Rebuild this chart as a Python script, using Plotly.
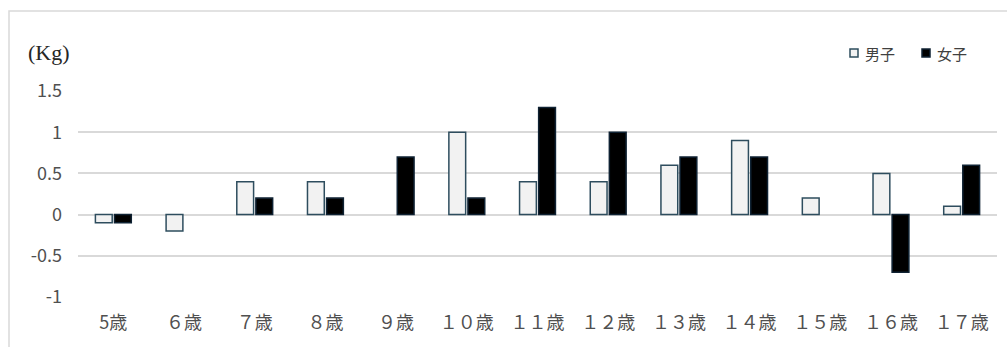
import plotly.graph_objects as go

# Age categories and yearly weight change (kg) by sex
ages = ["5歳", "６歳", "７歳", "８歳", "９歳", "１０歳", "１１歳", "１２歳",
        "１３歳", "１４歳", "１５歳", "１６歳", "１７歳"]
boys = [-0.1, -0.2, 0.4, 0.4, 0.0, 1.0, 0.4, 0.4, 0.6, 0.9, 0.2, 0.5, 0.1]
girls = [-0.1, 0.0, 0.2, 0.2, 0.7, 0.2, 1.3, 1.0, 0.7, 0.7, 0.0, -0.7, 0.6]
y_ticks = [-1, -0.5, 0, 0.5, 1, 1.5]
y_tick_text = ["-1", "-0.5", "0", "0.5", "1", "1.5"]

W, H = 1007, 347
L, R, T, B = 78, 10, 91, 50
plot_w = W - L - R
plot_h = H - T - B

def px_x(p):
    return (p - L) / plot_w

def px_y(p):
    return (H - B - p) / plot_h

def outline_widths(values, w=1.5):
    # zero-height bars get no outline so they stay invisible
    return [0 if v == 0 else w for v in values]

BOY_LINE = "#2e4d5e"
BOY_FILL = "#f2f2f2"
GIRL_LINE = "#0f2233"
GIRL_FILL = "#000000"
LABEL_FONT = "Noto Sans CJK JP"
LABEL_COLOR = "#505050"

fig = go.Figure()
fig.add_trace(go.Bar(
    x=ages, y=boys, name="男子",
    marker=dict(color=BOY_FILL,
                line=dict(color=BOY_LINE, width=outline_widths(boys))),
))
fig.add_trace(go.Bar(
    x=ages, y=girls, name="女子",
    marker=dict(color=GIRL_FILL,
                line=dict(color=GIRL_LINE, width=outline_widths(girls))),
))

shapes = [
    # outer frame
    dict(type="rect", xref="paper", yref="paper",
         x0=px_x(9), x1=px_x(1020), y0=px_y(370), y1=px_y(11),
         line=dict(color="#d9d9d9", width=1.5), fillcolor="rgba(0,0,0,0)",
         layer="below"),
    # legend keys
    dict(type="rect", xref="paper", yref="paper",
         x0=px_x(850), x1=px_x(858), y0=px_y(57), y1=px_y(49),
         line=dict(color=BOY_LINE, width=1.5), fillcolor=BOY_FILL),
    dict(type="rect", xref="paper", yref="paper",
         x0=px_x(922), x1=px_x(930), y0=px_y(57), y1=px_y(49),
         line=dict(color=GIRL_LINE, width=1.5), fillcolor=GIRL_FILL),
]

annotations = [
    dict(text="(Kg)", xref="paper", yref="paper", x=px_x(26), y=px_y(52),
         xanchor="left", yanchor="middle", showarrow=False,
         font=dict(family="Liberation Serif", size=22, color="#262626")),
    dict(text="男子", xref="paper", yref="paper", x=px_x(863), y=px_y(53),
         xanchor="left", yanchor="middle", showarrow=False,
         font=dict(family=LABEL_FONT, size=15, color="#404040")),
    dict(text="女子", xref="paper", yref="paper", x=px_x(935), y=px_y(53),
         xanchor="left", yanchor="middle", showarrow=False,
         font=dict(family=LABEL_FONT, size=15, color="#404040")),
]

fig.update_layout(
    width=W, height=H,
    margin=dict(l=L, r=R, t=T, b=B, pad=0),
    paper_bgcolor="white", plot_bgcolor="white",
    barmode="group", bargap=0.46, bargroupgap=0.12,
    showlegend=False,
    shapes=shapes, annotations=annotations,
    xaxis=dict(
        type="category", showgrid=False, showline=False, zeroline=False,
        ticks="", ticklabelstandoff=13,
        tickfont=dict(family=LABEL_FONT, size=18, color=LABEL_COLOR),
    ),
    yaxis=dict(
        range=[-1, 1.5], tickvals=y_ticks, ticktext=y_tick_text,
        showgrid=True, gridcolor="#d9d9d9", gridwidth=1.5,
        zeroline=True, zerolinecolor="#d9d9d9", zerolinewidth=1.5,
        showline=False, ticks="", ticklabelstandoff=15,
        tickfont=dict(family=LABEL_FONT, size=18, color=LABEL_COLOR),
    ),
)

fig.write_html("out.html")
